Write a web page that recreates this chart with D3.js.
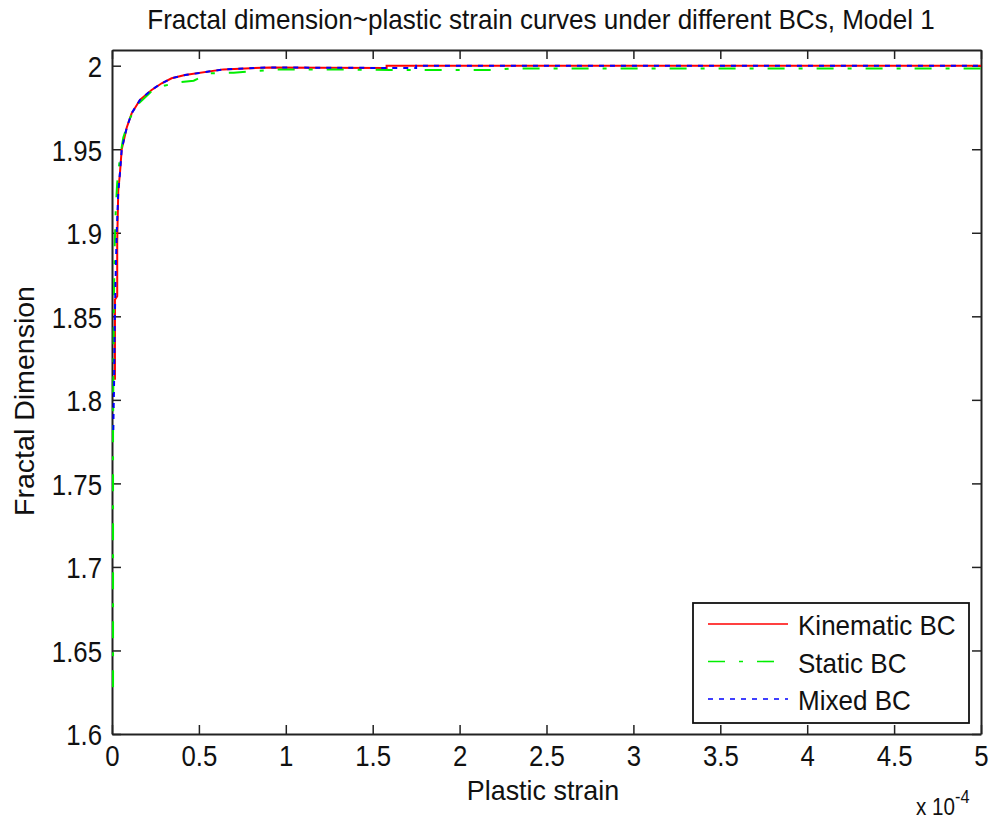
<!DOCTYPE html>
<html>
<head>
<meta charset="utf-8">
<script src="https://cdn.jsdelivr.net/npm/d3@7"></script>
<style>
  body { margin: 0; background: #fff; }
  text { font-family: "Liberation Sans", Arial, sans-serif; fill: #111; }
</style>
</head>
<body>
<svg width="993" height="821"></svg>
<script>
// strain values are in units of 1e-4
var kinematicX = [0.017, 0.017, 0.03, 0.03, 0.036, 0.046, 0.056, 0.085, 0.113, 0.161, 0.228, 0.286, 0.343, 0.42, 0.64, 0.91, 1.2, 1.58, 1.58, 2.5, 3.5, 5];
var kinematicY = [1.812, 1.86, 1.862, 1.895, 1.925, 1.936, 1.95, 1.963, 1.9715, 1.9795, 1.9855, 1.9895, 1.9925, 1.9944, 1.9978, 1.999, 1.9988, 1.9986, 2.0, 2.0, 2.0, 2.0];

var staticX = [0.006, 0.006, 0.01, 0.015, 0.022, 0.03, 0.046, 0.065, 0.1, 0.15, 0.22, 0.3, 0.38, 0.47, 0.56, 0.7, 0.95, 1.3, 1.6, 2.2, 2.3, 5];
var staticY = [1.628, 1.78, 1.85, 1.89, 1.915, 1.93, 1.945, 1.957, 1.968, 1.977, 1.984, 1.988, 1.990, 1.991, 1.9954, 1.9958, 1.9978, 1.9978, 1.9974, 1.9974, 1.9984, 1.9984];

var mixedX = [0.0075, 0.012, 0.015, 0.02, 0.027, 0.036, 0.046, 0.056, 0.085, 0.113, 0.161, 0.228, 0.286, 0.343, 0.42, 0.64, 0.91, 1.2, 1.75, 1.75, 2.5, 3.5, 5];
var mixedY = [1.782, 1.81, 1.84, 1.87, 1.90, 1.924, 1.936, 1.95, 1.963, 1.9715, 1.9795, 1.9855, 1.9895, 1.9925, 1.9944, 1.9978, 1.999, 1.9988, 1.9986, 2.0, 2.0, 2.0, 2.0];

var seriesNames = ["Kinematic BC", "Static BC", "Mixed BC"];
var seriesColors = ["#ff0000", "#00ee00", "#0000ff"];
var seriesDash = [null, "17,14,4,14", "5,6"];

var xTicks = [0, 0.5, 1, 1.5, 2, 2.5, 3, 3.5, 4, 4.5, 5];
var yTicks = [1.6, 1.65, 1.7, 1.75, 1.8, 1.85, 1.9, 1.95, 2];

var svg = d3.select("svg");
var plotLeft = 112, plotRight = 981, plotTop = 50, plotBottom = 734;

var x = d3.scaleLinear().domain([0, 5]).range([plotLeft, plotRight]);
var y = d3.scaleLinear().domain([1.6, 2.0094]).range([plotBottom, plotTop]);

// axes, ticks pointing inward like matlab
var tickLen = 9;
function styleAxis(g) {
    g.select(".domain").attr("stroke", "#222").attr("stroke-width", 2);
    g.selectAll(".tick line").attr("stroke", "#222").attr("stroke-width", 1.5);
}

var xAxis = svg.append("g")
    .attr("transform", `translate(0,${plotBottom})`)
    .call(d3.axisBottom(x).tickValues(xTicks).tickSize(-tickLen).tickSizeOuter(0).tickFormat(d => String(d)))
    .call(styleAxis);
xAxis.selectAll(".tick text")
    .attr("y", null).attr("dy", null)
    .attr("transform", "translate(0,32) scale(0.86,1)")
    .attr("font-size", 30)
    .attr("fill", "#111");

var yAxis = svg.append("g")
    .attr("transform", `translate(${plotLeft},0)`)
    .call(d3.axisLeft(y).tickValues(yTicks).tickSize(-tickLen).tickSizeOuter(0).tickFormat(d => String(+d.toFixed(2))))
    .call(styleAxis);
yAxis.selectAll(".tick text")
    .attr("x", null).attr("dy", "0.36em")
    .attr("transform", "translate(-10,0) scale(0.86,1)")
    .attr("font-size", 30)
    .attr("fill", "#111");

svg.append("g")
    .attr("transform", `translate(0,${plotTop})`)
    .call(d3.axisTop(x).tickValues(xTicks).tickSize(-tickLen).tickSizeOuter(0).tickFormat(""))
    .call(styleAxis);

svg.append("g")
    .attr("transform", `translate(${plotRight},0)`)
    .call(d3.axisRight(y).tickValues(yTicks).tickSize(-tickLen).tickSizeOuter(0).tickFormat(""))
    .call(styleAxis);

// curves drawn over the axes
var series = [
    {x: kinematicX, y: kinematicY},
    {x: staticX, y: staticY},
    {x: mixedX, y: mixedY}
];

var line = d3.line()
    .x(d => x(d[0]))
    .y(d => y(d[1]));

svg.append("g")
    .selectAll("path")
    .data(series)
    .enter()
    .append("path")
    .attr("d", d => line(d.x.map((v, i) => [v, d.y[i]])))
    .attr("fill", "none")
    .attr("stroke", (d, i) => seriesColors[i])
    .attr("stroke-width", 2)
    .attr("stroke-dasharray", (d, i) => seriesDash[i]);

// titles
svg.append("text")
    .attr("transform", "translate(541,29) scale(0.965,1)")
    .attr("text-anchor", "middle")
    .attr("font-size", 27)
    .text("Fractal dimension~plastic strain curves under different BCs, Model 1");

svg.append("text")
    .attr("transform", "translate(543,800) scale(0.96,1)")
    .attr("text-anchor", "middle")
    .attr("font-size", 28)
    .text("Plastic strain");

svg.append("text")
    .attr("transform", "translate(34,401) rotate(-90) scale(1.02,1)")
    .attr("text-anchor", "middle")
    .attr("font-size", 28)
    .text("Fractal Dimension");

var expo = svg.append("text")
    .attr("transform", "translate(916,815) scale(0.86,1)")
    .attr("font-size", 24);
expo.append("tspan").text("x 10");
expo.append("tspan").attr("font-size", 19).attr("dy", -12).text("-4");

// legend
var legend = svg.append("g");
legend.append("rect")
    .attr("x", 693).attr("y", 603)
    .attr("width", 276).attr("height", 120)
    .attr("fill", "#fff")
    .attr("stroke", "#111")
    .attr("stroke-width", 1.8);

var rows = legend.selectAll(".row")
    .data(seriesNames)
    .enter()
    .append("g")
    .attr("transform", (d, i) => `translate(708,${624 + i * 37.5})`);

rows.append("line")
    .attr("x1", 0).attr("x2", 80)
    .attr("stroke", (d, i) => seriesColors[i])
    .attr("stroke-width", 1.6)
    .attr("stroke-dasharray", (d, i) => seriesDash[i]);

rows.append("text")
    .attr("transform", "translate(90,11) scale(0.93,1)")
    .attr("font-size", 28)
    .text(d => d);
</script>
</body>
</html>
